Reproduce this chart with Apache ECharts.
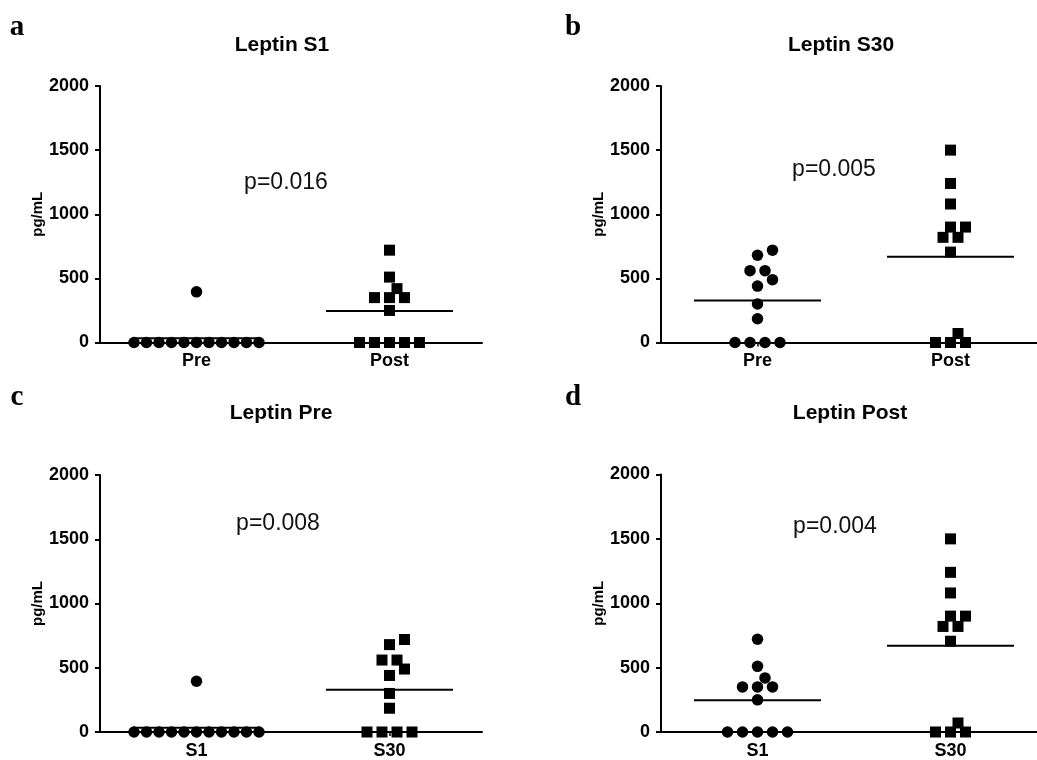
<!DOCTYPE html>
<html>
<head>
<meta charset="utf-8">
<script src="https://cdn.jsdelivr.net/npm/echarts@6/dist/echarts.min.js"></script>
<style>
html, body { margin: 0; padding: 0; background: #fff; }
#chart { width: 1037px; height: 760px; }
</style>
</head>
<body>
<div id="chart"></div>
<script>
// Leptin (pg/mL) per subject
const s1Pre = [0, 0, 0, 0, 0, 0, 0, 0, 0, 0, 0, 395];
const s1Post = [0, 0, 0, 0, 0, 250, 350, 350, 350, 420, 510, 720];
const s30Pre = [0, 0, 0, 0, 185, 300, 440, 490, 560, 560, 680, 720];
const s30Post = [0, 0, 0, 70, 705, 820, 820, 900, 900, 1080, 1240, 1500];

const panelLetters = ['a', 'b', 'c', 'd'];
const panelTitles = ['Leptin S1', 'Leptin S30', 'Leptin Pre', 'Leptin Post'];
const pValues = ['p=0.016', 'p=0.005', 'p=0.008', 'p=0.004'];
const groupLabels = [['Pre', 'Post'], ['Pre', 'Post'], ['S1', 'S30'], ['S1', 'S30']];
const groupValues = [[s1Pre, s1Post], [s30Pre, s30Post], [s1Pre, s30Pre], [s1Post, s30Post]];
const yTicks = [0, 500, 1000, 1500, 2000];

// panel layout (px)
const panels = [
    { left: 100, top: 86, width: 382, height: 256.5, title: [282, 45], p: [286, 183], letter: [17, 28] },
    { left: 661, top: 86, width: 376, height: 256.5, title: [841, 45], p: [834, 170], letter: [573, 28] },
    { left: 100, top: 475, width: 382, height: 257, title: [281, 413], p: [278, 524], letter: [17, 398] },
    { left: 661, top: 474.5, width: 376, height: 258, title: [850, 413], p: [835, 527], letter: [573, 398] },
];
const UNIT_PX = 193; // px between the two groups
const HALF_LINE = 63.5; // half length of the mean line in px

// column scatter: spread equal / close values sideways so markers don't overlap
function swarm(values, pxPerVal) {
    const sorted = values.slice().sort((a, b) => a - b);
    const groups = [];
    sorted.forEach((v) => {
        const g = groups[groups.length - 1];
        if (g && g.v === v) g.n++;
        else groups.push({ v, n: 1 });
    });
    const shifts = [0];
    for (let s = 7.5; s <= 60; s += 7.5) shifts.push(s, -s);
    const placed = [];
    groups.forEach((g) => {
        const d = g.n > 1 ? Math.min(15, 125 / (g.n - 1)) : 0;
        const y = g.v * pxPerVal;
        const base = Array.from({ length: g.n }, (_, i) => (i - (g.n - 1) / 2) * d);
        const shift = shifts.find((s) =>
            base.every((b) => placed.every((p) => Math.hypot(p.x - (s + b), p.y - y) >= 11))
        ) ?? 0;
        base.forEach((b) => placed.push({ x: shift + b, y, v: g.v }));
    });
    return placed;
}

const mean = (arr) => arr.reduce((a, b) => a + b, 0) / arr.length;

const grid = [], xAxis = [], yAxis = [], series = [], graphic = [];
const textFont = '"Liberation Sans", Arial, sans-serif';

panels.forEach((pn, i) => {
    grid.push({ left: pn.left, top: pn.top, width: pn.width, height: pn.height, containLabel: false });
    const labels = groupLabels[i];
    xAxis.push({
        gridIndex: i,
        type: 'value',
        min: 0.5,
        max: 0.5 + pn.width / UNIT_PX,
        axisLine: { show: true, onZero: false, lineStyle: { color: '#000', width: 2 } },
        axisTick: { show: true, customValues: [1, 2], length: 4, lineStyle: { color: '#000', width: 1.5 } },
        axisLabel: {
            customValues: [1, 2],
            formatter: (v) => labels[Math.round(v) - 1],
            color: '#000', fontWeight: 'bold', fontSize: 18, margin: 10,
        },
        splitLine: { show: false },
    });
    yAxis.push({
        gridIndex: i,
        type: 'value',
        min: yTicks[0],
        max: yTicks[yTicks.length - 1],
        interval: 500,
        name: 'pg/mL',
        nameLocation: 'middle',
        nameGap: 44,
        nameTextStyle: { color: '#000', fontWeight: 'bold', fontSize: 15 },
        axisLine: { show: true, lineStyle: { color: '#000', width: 2 } },
        axisTick: { show: true, length: 5, lineStyle: { color: '#000', width: 2 } },
        axisLabel: {
            formatter: (v) => String(v),
            color: '#000', fontWeight: 'bold', fontSize: 18, margin: 11,
        },
        splitLine: { show: false },
    });

    const pxPerVal = pn.height / 2000;
    groupValues[i].forEach((vals, g) => {
        const center = g + 1;
        const pts = swarm(vals, pxPerVal).map((p) => [center + p.x / UNIT_PX, p.v]);
        series.push({
            type: 'scatter',
            xAxisIndex: i,
            yAxisIndex: i,
            symbol: g === 0 ? 'circle' : 'rect',
            symbolSize: g === 0 ? 11.5 : 11,
            itemStyle: { color: '#000', opacity: 1 },
            data: pts,
            z: 3,
        });
        const m = mean(vals);
        const hw = HALF_LINE / UNIT_PX;
        series.push({
            type: 'line',
            xAxisIndex: i,
            yAxisIndex: i,
            symbol: 'none',
            lineStyle: { color: '#000', width: 2 },
            data: [[center - hw, m], [center + hw, m]],
            z: 2,
        });
    });

    graphic.push({
        type: 'text', x: pn.letter[0], y: pn.letter[1],
        style: { text: panelLetters[i], font: 'bold 29px "Liberation Serif", "Times New Roman", serif', fill: '#000', align: 'center', verticalAlign: 'middle' },
    });
    graphic.push({
        type: 'text', x: pn.title[0], y: pn.title[1],
        style: { text: panelTitles[i], font: 'bold 21px ' + textFont, fill: '#000', align: 'center', verticalAlign: 'middle' },
    });
    graphic.push({
        type: 'text', x: pn.p[0], y: pn.p[1],
        style: { text: pValues[i], font: '23px ' + textFont, fill: '#111', align: 'center', verticalAlign: 'middle' },
    });
});

const chart = echarts.init(document.getElementById('chart'), null, { renderer: 'canvas' });
chart.setOption({
    animation: false,
    backgroundColor: '#fff',
    textStyle: { fontFamily: textFont },
    grid,
    xAxis,
    yAxis,
    series,
    graphic,
});
</script>
</body>
</html>
